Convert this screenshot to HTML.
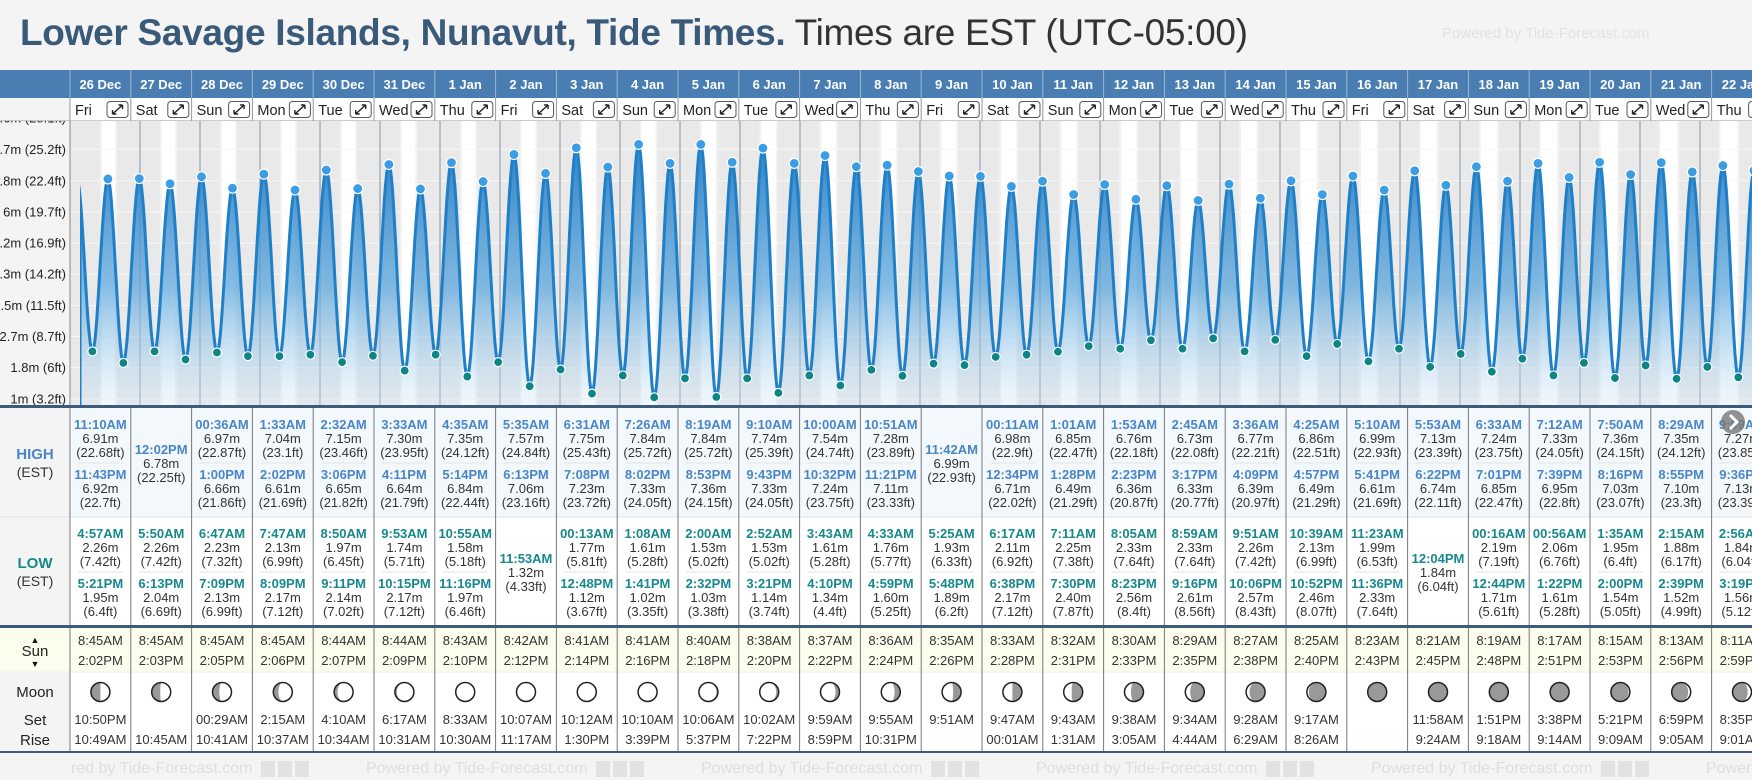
<!DOCTYPE html>
<html><head><meta charset="utf-8"><style>
html,body{margin:0;padding:0;background:#f4f4f4;width:1752px;height:780px;overflow:hidden;font-family:"Liberation Sans",sans-serif}
#title{position:absolute;left:20px;top:12px;font-size:37px;white-space:nowrap;letter-spacing:-0.3px}
#title b{color:#3a5a7a}
#title span{color:#333}
#pw{position:absolute;left:1442px;top:25px;font-size:15px;color:#e2e2e2}
svg{position:absolute;left:0;top:0}
</style></head><body>
<div id="title"><b>Lower Savage Islands, Nunavut, Tide Times.</b> <span>Times are EST (UTC-05:00)</span></div>
<div id="pw">Powered by Tide-Forecast.com</div>
<svg id="s" width="1752" height="780"></svg>
<script>
const days=["26 Dec","27 Dec","28 Dec","29 Dec","30 Dec","31 Dec","1 Jan","2 Jan","3 Jan","4 Jan","5 Jan","6 Jan","7 Jan","8 Jan","9 Jan","10 Jan","11 Jan","12 Jan","13 Jan","14 Jan","15 Jan","16 Jan","17 Jan","18 Jan","19 Jan","20 Jan","21 Jan","22 Jan"];
const dows=["Fri","Sat","Sun","Mon","Tue","Wed","Thu"];
const highTimes=[["11:10AM","11:43PM"],["12:02PM"],["00:36AM","1:00PM"],["1:33AM","2:02PM"],["2:32AM","3:06PM"],["3:33AM","4:11PM"],["4:35AM","5:14PM"],["5:35AM","6:13PM"],["6:31AM","7:08PM"],["7:26AM","8:02PM"],["8:19AM","8:53PM"],["9:10AM","9:43PM"],["10:00AM","10:32PM"],["10:51AM","11:21PM"],["11:42AM"],["00:11AM","12:34PM"],["1:01AM","1:28PM"],["1:53AM","2:23PM"],["2:45AM","3:17PM"],["3:36AM","4:09PM"],["4:25AM","4:57PM"],["5:10AM","5:41PM"],["5:53AM","6:22PM"],["6:33AM","7:01PM"],["7:12AM","7:39PM"],["7:50AM","8:16PM"],["8:29AM","8:55PM"],["9:09AM","9:36PM"]];
const highMeters=[[6.91,6.92],[6.78],[6.97,6.66],[7.04,6.61],[7.15,6.65],[7.30,6.64],[7.35,6.84],[7.57,7.06],[7.75,7.23],[7.84,7.33],[7.84,7.36],[7.74,7.33],[7.54,7.24],[7.28,7.11],[6.99],[6.98,6.71],[6.85,6.49],[6.76,6.36],[6.73,6.33],[6.77,6.39],[6.86,6.49],[6.99,6.61],[7.13,6.74],[7.24,6.85],[7.33,6.95],[7.36,7.03],[7.35,7.10],[7.27,7.13]];
const highFeet=[["22.68","22.7"],["22.25"],["22.87","21.86"],["23.1","21.69"],["23.46","21.82"],["23.95","21.79"],["24.12","22.44"],["24.84","23.16"],["25.43","23.72"],["25.72","24.05"],["25.72","24.15"],["25.39","24.05"],["24.74","23.75"],["23.89","23.33"],["22.93"],["22.9","22.02"],["22.47","21.29"],["22.18","20.87"],["22.08","20.77"],["22.21","20.97"],["22.51","21.29"],["22.93","21.69"],["23.39","22.11"],["23.75","22.47"],["24.05","22.8"],["24.15","23.07"],["24.12","23.3"],["23.85","23.39"]];
const lowTimes=[["4:57AM","5:21PM"],["5:50AM","6:13PM"],["6:47AM","7:09PM"],["7:47AM","8:09PM"],["8:50AM","9:11PM"],["9:53AM","10:15PM"],["10:55AM","11:16PM"],["11:53AM"],["00:13AM","12:48PM"],["1:08AM","1:41PM"],["2:00AM","2:32PM"],["2:52AM","3:21PM"],["3:43AM","4:10PM"],["4:33AM","4:59PM"],["5:25AM","5:48PM"],["6:17AM","6:38PM"],["7:11AM","7:30PM"],["8:05AM","8:23PM"],["8:59AM","9:16PM"],["9:51AM","10:06PM"],["10:39AM","10:52PM"],["11:23AM","11:36PM"],["12:04PM"],["00:16AM","12:44PM"],["00:56AM","1:22PM"],["1:35AM","2:00PM"],["2:15AM","2:39PM"],["2:56AM","3:19PM"]];
const lowMeters=[[2.26,1.95],[2.26,2.04],[2.23,2.13],[2.13,2.17],[1.97,2.14],[1.74,2.17],[1.58,1.97],[1.32],[1.77,1.12],[1.61,1.02],[1.53,1.03],[1.53,1.14],[1.61,1.34],[1.76,1.60],[1.93,1.89],[2.11,2.17],[2.25,2.40],[2.33,2.56],[2.33,2.61],[2.26,2.57],[2.13,2.46],[1.99,2.33],[1.84],[2.19,1.71],[2.06,1.61],[1.95,1.54],[1.88,1.52],[1.84,1.56]];
const lowFeet=[["7.42","6.4"],["7.42","6.69"],["7.32","6.99"],["6.99","7.12"],["6.45","7.02"],["5.71","7.12"],["5.18","6.46"],["4.33"],["5.81","3.67"],["5.28","3.35"],["5.02","3.38"],["5.02","3.74"],["5.28","4.4"],["5.77","5.25"],["6.33","6.2"],["6.92","7.12"],["7.38","7.87"],["7.64","8.4"],["7.64","8.56"],["7.42","8.43"],["6.99","8.07"],["6.53","7.64"],["6.04"],["7.19","5.61"],["6.76","5.28"],["6.4","5.05"],["6.17","4.99"],["6.04","5.12"]];
const prevTide=[-1,"10:45PM",6.9];
const sunRise=["8:45AM","8:45AM","8:45AM","8:45AM","8:44AM","8:44AM","8:43AM","8:42AM","8:41AM","8:41AM","8:40AM","8:38AM","8:37AM","8:36AM","8:35AM","8:33AM","8:32AM","8:30AM","8:29AM","8:27AM","8:25AM","8:23AM","8:21AM","8:19AM","8:17AM","8:15AM","8:13AM","8:11AM"];
const sunSet=["2:02PM","2:03PM","2:05PM","2:06PM","2:07PM","2:09PM","2:10PM","2:12PM","2:14PM","2:16PM","2:18PM","2:20PM","2:22PM","2:24PM","2:26PM","2:28PM","2:31PM","2:33PM","2:35PM","2:38PM","2:40PM","2:43PM","2:45PM","2:48PM","2:51PM","2:53PM","2:56PM","2:59PM"];
const moonSet=["10:50PM","","00:29AM","2:15AM","4:10AM","6:17AM","8:33AM","10:07AM","10:12AM","10:10AM","10:06AM","10:02AM","9:59AM","9:55AM","9:51AM","9:47AM","9:43AM","9:38AM","9:34AM","9:28AM","9:17AM","","11:58AM","1:51PM","3:38PM","5:21PM","6:59PM","8:35PM"];
const moonRise=["10:49AM","10:45AM","10:41AM","10:37AM","10:34AM","10:31AM","10:30AM","11:17AM","1:30PM","3:39PM","5:37PM","7:22PM","8:59PM","10:31PM","","00:01AM","1:31AM","3:05AM","4:44AM","6:29AM","8:26AM","","9:24AM","9:18AM","9:14AM","9:09AM","9:05AM","9:01AM"];
const moonShade=[-0.5,-0.45,-0.36,-0.27,-0.18,-0.1,-0.04,0,0,0.03,0.07,0.13,0.21,0.3,0.42,0.5,0.58,0.66,0.74,0.82,0.9,0.96,1,1,-0.97,-0.93,-0.87,-0.8];
const tickValues=[0.975,1.82,2.66,3.5,4.34,5.18,6.02,6.86,7.71,8.55];
const tickLabels=["1m (3.2ft)","1.8m (6ft)","2.7m (8.7ft)","3.5m (11.5ft)","4.3m (14.2ft)","5.2m (16.9ft)","6m (19.7ft)","6.8m (22.4ft)","7.7m (25.2ft)","8.6m (28.1ft)"];

const NS="http://www.w3.org/2000/svg";
const S=document.getElementById('s');
function mk(tag,a,p){const e=document.createElementNS(NS,tag);for(const k in a)e.setAttribute(k,a[k]);(p||S).appendChild(e);return e;}
function txt(str,a,p){const e=mk('text',a,p);e.textContent=str;return e;}
function hrs(t){const m=t.match(/(\d+):(\d+)(AM|PM)/);let h=(+m[1])%12;if(m[3]=="PM")h+=12;return h+(+m[2])/60;}
const CW=60.8,C0=70,CT=121,CB=405;
function colX(i){return C0+i*CW;}
function xT(t){return 80+t*60;}
function yM(m){return 399-(m-0.975)*37.08;}

let e=mk('rect',{x:0,y:70,width:1752,height:28,fill:'#4a7db1'});


e=mk('rect',{x:0,y:98,width:1752,height:23,fill:'#fff'});


mk('rect',{x:0,y:98,width:70,height:23,fill:'#f4f4f4'});
mk('line',{x1:0,y1:121,x2:1752,y2:121,stroke:'#8a99a8'});
days.forEach((d,i)=>{
  const x=colX(i);
  mk('line',{x1:x,y1:70,x2:x,y2:98,stroke:'#9bb8d5'});
  mk('line',{x1:x,y1:98,x2:x,y2:121,stroke:'#8a99a8'});
  let t=txt(d,{x:x+CW/2,y:89,'text-anchor':'middle','font-size':13,'font-weight':'bold',fill:'#fff'});
  
  
  t=txt(dows[i%7],{x:x+5,y:115,'font-size':14.5,fill:'#222'});
  
  
  const g=mk('g',{});
  
  
  mk('rect',{x:x+37,y:101.5,width:21,height:16,rx:3,fill:'#fff',stroke:'#555'},g);
  mk('path',{d:`M${x+42.5} 114L${x+52.5} 105M${x+42.5} 114v-4M${x+42.5} 114h4M${x+52.5} 105h-4M${x+52.5} 105v4`,stroke:'#222','stroke-width':1.4,fill:'none'},g);
});

const cg=mk('g',{});


const ccp=mk('clipPath',{id:'cc'});mk('rect',{x:70,y:CT,width:1682,height:CB-CT},ccp);
cg.setAttribute('clip-path','url(#cc)');
mk('rect',{x:70,y:CT,width:1682,height:CB-CT,fill:'#e9e9e9'},cg);
for(let i=-1;i<28;i++){
  const r=i<0?hrs(sunRise[0]):hrs(sunRise[i]),s=i<0?hrs(sunSet[0]):hrs(sunSet[i]);
  mk('rect',{x:xT(i+(r-0.8)/24),y:CT,width:(s-r+1.6)*2.5,height:CB-CT,fill:'#f2f2f2'},cg);
  const b=mk('rect',{x:xT(i+r/24),y:CT,width:(s-r)*2.5,height:CB-CT,fill:'#fff'},cg);
  
  
}
tickValues.forEach(v=>mk('line',{x1:70,x2:1752,y1:yM(v),y2:yM(v),stroke:'#f8f8f8','stroke-width':1},cg));
for(let i=1;i<28;i++)mk('line',{x1:xT(i),x2:xT(i),y1:CT,y2:CB,stroke:'#8494a4','stroke-width':1},cg);

const ev=[[prevTide[0]+hrs(prevTide[1])/24,prevTide[2],'H']];
days.forEach((d,i)=>{
  highTimes[i].forEach((t,k)=>ev.push([i+hrs(t)/24,highMeters[i][k],'H']));
  lowTimes[i].forEach((t,k)=>ev.push([i+hrs(t)/24,lowMeters[i][k],'L']));
});
ev.sort((a,b)=>a[0]-b[0]);
let pts=[];
for(let k=0;k<ev.length-1;k++){
  const a=ev[k],b=ev[k+1];
  for(let j=0;j<14;j++){const f=j/14;const v=a[1]+(b[1]-a[1])*(1-Math.cos(Math.PI*f))/2;pts.push([xT(a[0]+(b[0]-a[0])*f),yM(v)]);}
}
const last=ev[ev.length-1];pts.push([xT(last[0]),yM(last[1])]);
const defs=mk('defs',{});
const gr=mk('linearGradient',{id:'gf',x1:0,y1:0,x2:0,y2:1},defs);
mk('stop',{offset:'0.1',"stop-color":'#2c82c9',"stop-opacity":0.9},gr);
mk('stop',{offset:'0.55',"stop-color":'#5ea7dc',"stop-opacity":0.75},gr);
mk('stop',{offset:'1',"stop-color":'#cfe6f7',"stop-opacity":0.3},gr);
const cl=mk('clipPath',{id:'cc2'});mk('rect',{x:80,y:CT,width:1672,height:CB-CT},cl);
const tg=mk('g',{'clip-path':'url(#cc2)'},cg);
const ds=pts.map((p,i)=>(i?'L':'M')+p[0].toFixed(1)+' '+p[1].toFixed(1)).join('');
e=mk('path',{d:ds+`L${pts[pts.length-1][0]} ${CB}L${pts[0][0]} ${CB}Z`,fill:'url(#gf)'},tg);


e=mk('path',{d:ds,fill:'none',stroke:'#1f80c8','stroke-width':3},tg);


mk('line',{x1:80,x2:80,y1:yM(6.5),y2:CB,stroke:'#1f80c8','stroke-width':3},tg);
ev.forEach(p=>{
  if(p[0]<0)return;
  const c=mk('circle',{cx:xT(p[0]),cy:yM(p[1]),r:p[2]=='H'?5:4.5,fill:p[2]=='H'?'#3b9de3':'#0e8585',stroke:'#fff','stroke-width':1.2},tg);
  
  
});

e=mk('rect',{x:0,y:CT,width:70,height:CB-CT,fill:'#f4f4f4'});


mk('line',{x1:70,x2:70,y1:CT,y2:CB,stroke:'#888'});
const ycl=mk('clipPath',{id:'yc'});mk('rect',{x:0,y:CT,width:70,height:CB-CT},ycl);
const yg=mk('g',{'clip-path':'url(#yc)'});
tickValues.forEach((v,i)=>{
  const t=txt(tickLabels[i],{x:66,y:yM(v)+4.5,'text-anchor':'end','font-size':13,fill:'#222'},yg);
  
  
});
mk('rect',{x:0,y:CB,width:1752,height:3,fill:'#3d5a7a'});

mk('rect',{x:0,y:408,width:1752,height:109,fill:'#f3f8fd'});
mk('rect',{x:0,y:517,width:1752,height:108,fill:'#fff'});
mk('rect',{x:0,y:628,width:1752,height:44,fill:'#fdfdee'});
mk('rect',{x:0,y:672,width:1752,height:79,fill:'#fff'});
mk('rect',{x:0,y:408,width:70,height:217,fill:'#f4f4f4'});
mk('rect',{x:0,y:672,width:70,height:79,fill:'#f4f4f4'});
mk('line',{x1:0,x2:1752,y1:517,y2:517,stroke:'#e2e2e2'});
mk('line',{x1:0,x2:1752,y1:672,y2:672,stroke:'#eee'});
mk('rect',{x:0,y:625,width:1752,height:3,fill:'#3d5a7a'});
mk('rect',{x:0,y:751,width:1752,height:2,fill:'#3d5a7a'});
let t;
t=txt('HIGH',{x:35,y:459,'text-anchor':'middle','font-size':15,'font-weight':'bold',fill:'#4a86c5'});


txt('(EST)',{x:35,y:477,'text-anchor':'middle','font-size':14,fill:'#333'});
t=txt('LOW',{x:35,y:568,'text-anchor':'middle','font-size':15,'font-weight':'bold',fill:'#17888c'});


txt('(EST)',{x:35,y:586,'text-anchor':'middle','font-size':14,fill:'#333'});
txt('▲',{x:35,y:643,'text-anchor':'middle','font-size':9,fill:'#111'});
t=txt('Sun',{x:35,y:656,'text-anchor':'middle','font-size':15,fill:'#222'});


txt('▼',{x:35,y:667,'text-anchor':'middle','font-size':9,fill:'#111'});
t=txt('Moon',{x:35,y:697,'text-anchor':'middle','font-size':15,fill:'#222'});


txt('Set',{x:35,y:725,'text-anchor':'middle','font-size':15,fill:'#222'});
txt('Rise',{x:35,y:745,'text-anchor':'middle','font-size':15,fill:'#222'});

function entries(times,ms,fts,y0,y1,color,name,i){
  const x=colX(i)+CW/2;
  const ys=times.length==2?[y0,y0+50]:[y0+25];
  times.forEach((tm,k)=>{
    const y=ys[k];
    let a=txt(tm,{x:x,y:y,'text-anchor':'middle','font-size':13,'font-weight':'bold',fill:color});
    
    
    txt(ms[k].toFixed(2)+'m',{x:x,y:y+14,'text-anchor':'middle','font-size':13,fill:'#333'});
    txt('('+fts[k]+'ft)',{x:x,y:y+28,'text-anchor':'middle','font-size':13,fill:'#333'});
  });
  if(times.length==2)mk('line',{x1:colX(i)+8,x2:colX(i)+CW-8,y1:y1,y2:y1,stroke:'#e4e4e4'});
}
days.forEach((d,i)=>{
  const x=colX(i);
  mk('line',{x1:x,x2:x,y1:408,y2:625,stroke:'#777'});
  mk('line',{x1:x,x2:x,y1:628,y2:751,stroke:'#777'});
  entries(highTimes[i],highMeters[i],highFeet[i],429,463,'#4a86c5','high-tide',i);
  entries(lowTimes[i],lowMeters[i],lowFeet[i],538,572,'#17888c','low-tide',i);
  const cx=x+CW/2;
  let a=txt(sunRise[i],{x:cx,y:645,'text-anchor':'middle','font-size':13,fill:'#333'});
  
  
  a=txt(sunSet[i],{x:cx,y:665,'text-anchor':'middle','font-size':13,fill:'#333'});
  
  
  const g=mk('g',{});
  
  
  const cy=692,r=9.5,sh=moonShade[i],gf=Math.abs(sh);
  mk('circle',{cx:cx,cy:cy,r:r,fill:'#fff'},g);
  if(gf>0.01){
    if(gf>0.99)mk('circle',{cx:cx,cy:cy,r:r,fill:'#999'},g);
    else{
      const left=sh<0, rx=Math.abs(1-2*gf)*r;
      const outerSweep=left?0:1;
      const termSweep=(gf<0.5)?(left?1:0):(left?0:1);
      mk('path',{d:`M${cx} ${cy-r}A${r} ${r} 0 0 ${outerSweep} ${cx} ${cy+r}A${rx} ${r} 0 0 ${termSweep} ${cx} ${cy-r}Z`,fill:'#999'},g);
    }
  }
  mk('circle',{cx:cx,cy:cy,r:r,fill:'none',stroke:'#222','stroke-width':1.5},g);
  if(moonSet[i]){a=txt(moonSet[i],{x:cx,y:724,'text-anchor':'middle','font-size':13,fill:'#333'});
  
  }
  if(moonRise[i]){a=txt(moonRise[i],{x:cx,y:744,'text-anchor':'middle','font-size':13,fill:'#333'});
  
  }
});
e=mk('circle',{cx:1733,cy:422,r:12,fill:'#777','fill-opacity':0.8});


mk('path',{d:'M1730 415l7 7l-7 7',stroke:'#fff','stroke-width':3,fill:'none'});
mk('rect',{x:0,y:753,width:1752,height:27,fill:'#f4f4f4'});
const fcl=mk('clipPath',{id:'fc'});mk('rect',{x:70,y:753,width:1682,height:27},fcl);
const fg=mk('g',{'clip-path':'url(#fc)'});


for(let k=0;k<6;k++){
  const x0=31+k*335;
  txt('Powered by Tide-Forecast.com',{x:x0,y:773,'font-size':16,fill:'#dedede'},fg);
  for(let j=0;j<3;j++)mk('rect',{x:x0+230+j*17,y:761,width:14,height:16,fill:'#e2e2e2'},fg);
}
</script>
</body></html>
